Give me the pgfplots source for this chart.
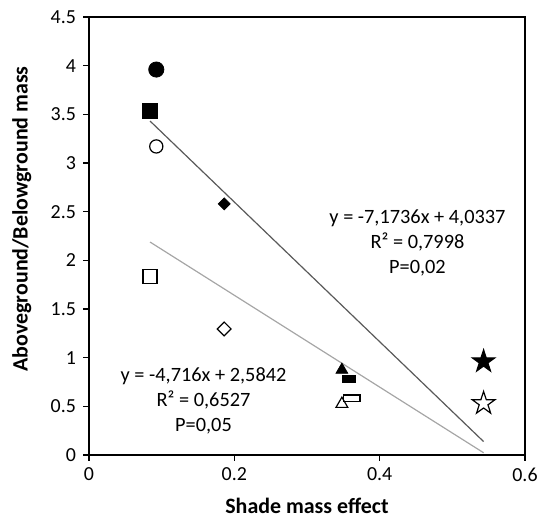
\documentclass[border=0pt]{standalone}
\usepackage{fontspec}
\setmainfont{Carlito}
\usepackage{pgfplots}
\pgfplotsset{compat=1.18}

\definecolor{fitdark}{HTML}{595959}
\definecolor{fitlight}{HTML}{A6A6A6}

% five-pointed star mark
\pgfdeclareplotmark{fivestar}{%
  \pgfpathmoveto{\pgfpointpolar{90}{\pgfplotmarksize}}%
  \pgfpathlineto{\pgfpointpolar{126}{0.382\pgfplotmarksize}}%
  \pgfpathlineto{\pgfpointpolar{162}{\pgfplotmarksize}}%
  \pgfpathlineto{\pgfpointpolar{198}{0.382\pgfplotmarksize}}%
  \pgfpathlineto{\pgfpointpolar{234}{\pgfplotmarksize}}%
  \pgfpathlineto{\pgfpointpolar{270}{0.382\pgfplotmarksize}}%
  \pgfpathlineto{\pgfpointpolar{306}{\pgfplotmarksize}}%
  \pgfpathlineto{\pgfpointpolar{342}{0.382\pgfplotmarksize}}%
  \pgfpathlineto{\pgfpointpolar{18}{\pgfplotmarksize}}%
  \pgfpathlineto{\pgfpointpolar{54}{0.382\pgfplotmarksize}}%
  \pgfpathclose
  \pgfusepathqfillstroke}

\begin{document}
\begin{tikzpicture}
\begin{axis}[
    scale only axis,
    width=218bp, height=219bp,
    xmin=0, xmax=0.6, ymin=0, ymax=4.5,
    xtick={0,0.2,0.4,0.6},
    ytick={0,0.5,...,4.5},
    tick pos=left, tick align=outside,
    major tick length=3bp,
    axis line style={line width=0.8pt},
    every tick/.style={black, line width=0.6pt},
    /pgf/number format/assume math mode=true,
    ticklabel style={font=\fontsize{10}{12}\selectfont},
    xlabel={\textbf{Shade mass effect}},
    ylabel={\textbf{Aboveground/Belowground mass}},
    label style={font=\fontsize{11}{13}\selectfont},
    xlabel style={at={(axis description cs:0.5,-0.117)}, anchor=center},
    ylabel style={at={(axis description cs:-0.154,0.539)}, anchor=center},
    clip=false,
]
\coordinate (sw) at (rel axis cs:0,0);
\coordinate (ne) at (rel axis cs:1,1);

% fitted lines
\addplot[fitdark, line width=0.6pt] coordinates {(0.084,3.431) (0.543,0.138)};
\addplot[fitlight, line width=0.6pt] coordinates {(0.084,2.188) (0.543,0.023)};

% filled markers
\addplot[only marks, mark=*, mark size=3.8bp, black] coordinates {(0.0926,3.96)};
\addplot[only marks, mark=square*, mark size=3.7bp, black] coordinates {(0.084,3.535)};
\addplot[only marks, mark=square*, mark size=2.1bp, mark options={rotate=45}, black] coordinates {(0.186,2.58)};
\addplot[only marks, mark=triangle*, mark size=3.4bp, black] coordinates {(0.348,0.874)};
\addplot[only marks, mark=square*, mark size=3.35bp, mark options={yscale=0.55}, black] coordinates {(0.358,0.78)};
\addplot[only marks, mark=fivestar, mark size=6bp, mark options={fill=black, line width=0.5pt}, black] coordinates {(0.543,0.96)};

% open markers
\addplot[only marks, mark=o, mark size=3.3bp, mark options={line width=0.6pt}, black] coordinates {(0.0926,3.17)};
\addplot[only marks, mark=square, mark size=3.5bp, mark options={line width=0.6pt}, black] coordinates {(0.084,1.83)};
\addplot[only marks, mark=square, mark size=2.45bp, mark options={rotate=45, line width=0.6pt}, black] coordinates {(0.186,1.295)};
\addplot[only marks, mark=triangle, mark size=3.4bp, mark options={line width=0.6pt, fill=white}, black] coordinates {(0.348,0.524)};
\addplot[only marks, mark=square, mark size=4.15bp, mark options={yscale=0.4, line width=0.6pt, fill=white}, black] coordinates {(0.3615,0.583)};
\addplot[only marks, mark=fivestar, mark size=6bp, mark options={fill=white, line width=0.6pt}, black] coordinates {(0.543,0.53)};

% equations
\node[align=center, font=\fontsize{10.2}{12.5}\selectfont] at (axis cs:0.452,2.18)
    {y = -7,1736x + 4,0337\\R² = 0,7998\\P=0,02};
\node[align=center, font=\fontsize{10.2}{12.5}\selectfont] at (axis cs:0.1576,0.555)
    {y = -4,716x + 2,5842\\R² = 0,6527\\P=0,05};
\end{axis}
\pgfresetboundingbox
\path ([shift={(-44.5bp,-31bp)}]sw) rectangle ([shift={(7bp,8.5bp)}]ne);
\end{tikzpicture}
\end{document}
